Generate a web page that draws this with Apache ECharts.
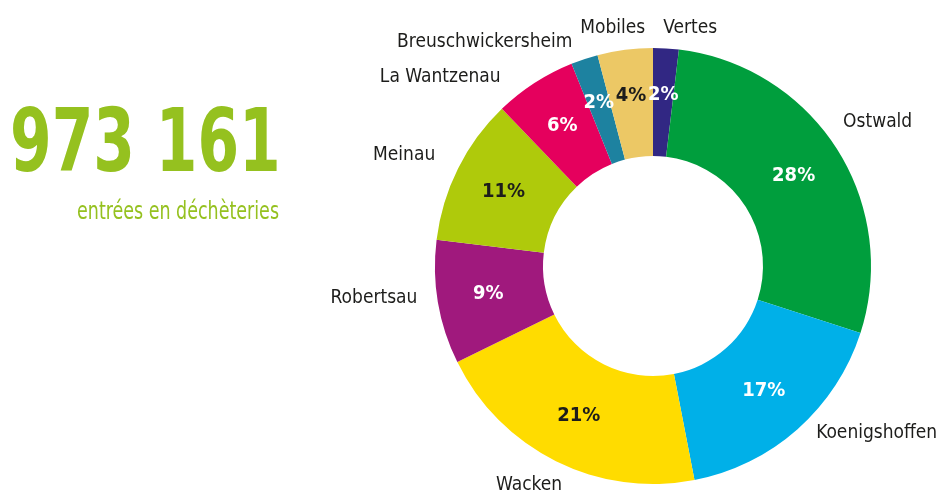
<!DOCTYPE html>
<html>
<head>
<meta charset="utf-8">
<script src="https://cdn.jsdelivr.net/npm/echarts@6/dist/echarts.min.js"></script>
<style>
  html, body { margin: 0; padding: 0; background: #fff; }
  #chart { width: 939px; height: 497px; }
</style>
</head>
<body>
<div id="chart"></div>
<script>
const names = ['Vertes', 'Ostwald', 'Koenigshoffen', 'Wacken', 'Robertsau', 'Meinau', 'La Wantzenau', 'Breuschwickersheim', 'Mobiles']
const shares = [1.9, 28.1, 17.0, 20.8, 9.2, 10.9, 6.1, 2.0, 4.1]
const colors = ['#312783', '#009e3d', '#00b0e8', '#ffdc00', '#a0197d', '#afca0b', '#e5005d', '#1d82a0', '#ecc865']
const darkText = ['Wacken', 'Meinau', 'Mobiles']
const total = '973 161'
const subtitle = 'entrées en déchèteries'

const font = '"DejaVu Sans Condensed", "Liberation Sans Narrow", sans-serif'
const green = '#95c11f'
const center = [653, 266]
const rIn = 110
const rOut = 218

// small hand nudges for the outer names (the original was laid out by hand)
const nudge = {
    'Vertes': [-9, 2],
    'Mobiles': [28, 0],
    'Breuschwickersheim': [0, 4],
    'La Wantzenau': [-17, 13],
    'Meinau': [2, -4],
    'Robertsau': [6, -8],
    'Wacken': [21, 4],
    'Koenigshoffen': [-1, -13],
    'Ostwald': [-17, -15]
}

let sum = shares.reduce((a, b) => a + b, 0)
let acc = 0
let mids = shares.map(v => {
    let m = acc + v / 2
    acc += v
    return m
})

let chart = echarts.init(document.getElementById('chart'))

let option = {
    animation: false,
    polar: { center: center, radius: rOut },
    angleAxis: { type: 'value', min: 0, max: sum, startAngle: 90, clockwise: true, show: false },
    radiusAxis: { type: 'value', min: 0, max: rOut, show: false },
    graphic: [
        {
            type: 'text',
            x: 10,
            y: 148,
            scaleX: 0.756,
            style: {
                text: total,
                font: 'bold 88px ' + font,
                fill: green,
                textAlign: 'left',
                textVerticalAlign: 'middle'
            }
        },
        {
            type: 'text',
            x: 279,
            y: 213,
            scaleX: 0.81,
            style: {
                text: subtitle,
                font: '24px ' + font,
                fill: green,
                textAlign: 'right',
                textVerticalAlign: 'middle'
            }
        }
    ],
    series: [
        {
            type: 'pie',
            center: center,
            radius: [rIn, rOut],
            startAngle: 90,
            clockwise: true,
            silent: true,
            avoidLabelOverlap: false,
            data: names.map((n, i) => ({ name: n, value: shares[i], itemStyle: { color: colors[i] } })),
            label: {
                position: 'outside',
                fontFamily: font,
                fontSize: 19,
                color: '#1d1d1b',
                width: 200,
                overflow: 'none',
                formatter: '{b}'
            },
            labelLine: { show: false, length: 22, length2: 0 },
            labelLayout: p => {
                let d = nudge[names[p.dataIndex]] || [0, 0]
                return { dx: d[0], dy: d[1] }
            }
        },
        {
            type: 'scatter',
            coordinateSystem: 'polar',
            silent: true,
            symbolSize: 0,
            itemStyle: { opacity: 1 },
            data: mids.map((m, i) => ({
                value: [(rIn + rOut) / 2 + (shares[i] < 5 ? 8 : 3), m],
                label: { color: darkText.indexOf(names[i]) >= 0 ? '#1d1d1b' : '#ffffff' }
            })),
            label: {
                show: true,
                position: 'inside',
                opacity: 1,
                fontFamily: font,
                fontWeight: 'bold',
                fontSize: 20,
                formatter: p => Math.round(shares[p.dataIndex]) + '%'
            }
        }
    ]
}

chart.setOption(option)
</script>
</body>
</html>
